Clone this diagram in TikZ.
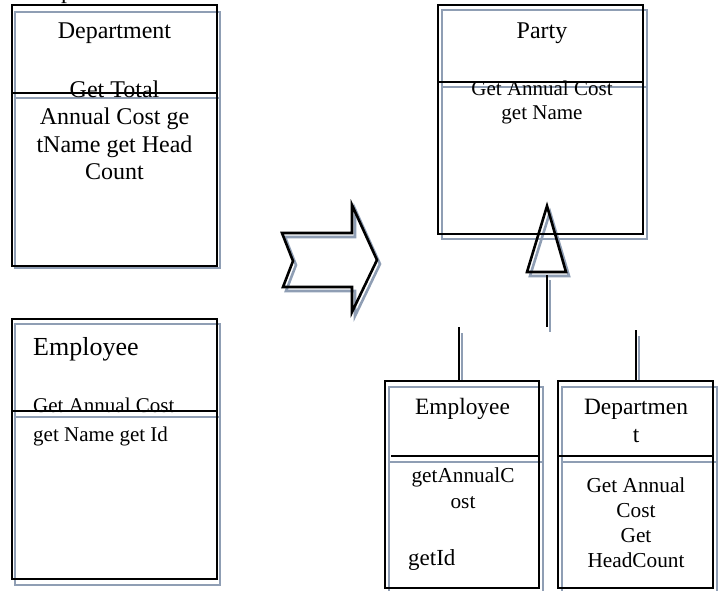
\documentclass[tikz,border=0pt]{standalone}
\usepackage{fontspec}
\setmainfont{Liberation Serif}
\usepackage{xcolor}
\usepackage{tikz}
\usetikzlibrary{calc}
\definecolor{shade}{RGB}{143,158,180}

\begin{document}
\begin{tikzpicture}[x=1pt, y=-1pt,
  classbox/.style={draw=black, line width=2.6pt, inner sep=0pt, outer sep=0pt, anchor=north west},
  ghostbox/.style={draw=shade, line width=2.6pt, inner sep=0pt, outer sep=0pt, anchor=north west},
  divider/.style={draw=black, line width=2.6pt},
  ghostline/.style={draw=shade, line width=2.6pt},
  txt/.style={inner sep=0pt, anchor=base, align=center},
  big/.style={font=\fontsize{24}{27.5}\selectfont}
]
\useasboundingbox (0,0) rectangle (719,590);

% shadows
\node[ghostbox, minimum width=205pt, minimum height=256pt] (deptOldS) at (15,12) {};
\draw[ghostline] ($(deptOldS.north west)+(0,86)$) -- ($(deptOldS.north east)+(0,86)$);
\node[ghostbox, minimum width=205pt, minimum height=261pt] (empOldS) at (15,324) {};
\draw[ghostline] ($(empOldS.north west)+(0,93)$) -- ($(empOldS.north east)+(0,93)$);
\node[ghostbox, minimum width=205pt, minimum height=229pt] (partyS) at (442,10) {};
\draw[ghostline] ($(partyS.north west)+(0,77)$) -- ($(partyS.north east)+(0,77)$);
\node[ghostbox, minimum width=154pt, minimum height=206pt] (subEmpS) at (389,387) {};
\draw[ghostline] ($(subEmpS.north west)+(0,75)$) -- ($(subEmpS.north east)+(0,75)$);
\node[ghostbox, minimum width=155pt, minimum height=206pt] (subDeptS) at (562,387) {};
\draw[ghostline] ($(subDeptS.north west)+(0,75)$) -- ($(subDeptS.north east)+(0,75)$);
\draw[ghostline] (285,237) -- (296,265) -- (286,291) -- (355,291) -- (355,316) -- (380,264) -- (355,209) -- (355,237) -- cycle;
\draw[ghostline] (550,212) -- (569,276) -- (530,276) -- cycle;
\draw[ghostline] (550,280) -- (550,332);
\draw[ghostline] (462,333) -- (462,381);
\draw[ghostline] (639,336) -- (639,381);

% classes
\node[classbox, minimum width=205pt, minimum height=261pt] (deptOld) at (12,5) {};
\draw[divider] ($(deptOld.north west)+(0,88)$) -- ($(deptOld.north east)+(0,88)$);
\node[classbox, minimum width=205pt, minimum height=260pt] (empOld) at (12,319) {};
\draw[divider] ($(empOld.north west)+(0,92)$) -- ($(empOld.north east)+(0,92)$);
\node[classbox, minimum width=205pt, minimum height=229pt] (party) at (438,5) {};
\draw[divider] ($(party.north west)+(0,77)$) -- ($(party.north east)+(0,77)$);
\node[classbox, minimum width=154pt, minimum height=207pt] (subEmp) at (385,381) {};
\draw[divider] ($(subEmp.north west)+(6,75)$) -- ($(subEmp.north east)+(0,75)$);
\node[classbox, minimum width=155pt, minimum height=207pt] (subDept) at (558,381) {};
\draw[divider] ($(subDept.north west)+(0,75)$) -- ($(subDept.north east)+(0,75)$);

% refactoring arrow and generalisation
\draw[divider] (282,233) -- (293,261) -- (283,287) -- (352,287) -- (352,312) -- (377,260) -- (352,205) -- (352,233) -- cycle;
\coordinate (tip) at (547,206);
\coordinate (stemTop) at (547,275);
\coordinate (stemEnd) at (547,327);
\draw[divider] (tip) -- (566,272) -- (527,272) -- cycle;
\draw[divider] (stemTop) -- (stemEnd);
\draw[divider] (subEmp.north -| 459,0) -- (459,327);
\draw[divider] (subDept.north -| 636,0) -- (636,330);

% texts (multi-line nodes sit on their last baseline)
\node[txt, big, anchor=base west] (cut) at (61,-2) {p};
\node[txt, big] (deptOldName) at (114.5,38) {Department};
\node[txt, big] (deptOldOps) at (114.5,179.5) {Get Total\\Annual Cost ge\\tName get Head\\Count};
\node[txt, anchor=base west, font=\fontsize{26}{30}\selectfont] (empOldName) at (33,355) {Employee};
\node[txt, anchor=base west, font=\fontsize{21}{29}\selectfont, align=left] (empOldOps) at (33,441) {Get Annual Cost\\get Name get Id};
\node[txt, big] (partyName) at (542,38) {Party};
\node[txt, font=\fontsize{21}{24}\selectfont] (partyOps) at (542,119) {Get Annual Cost\\get Name};
\node[txt, font=\fontsize{23.4}{28}\selectfont] (subEmpName) at (462.5,414) {Employee};
\node[txt, font=\fontsize{21.3}{26}\selectfont] (subEmpOps) at (463,508) {getAnnualC\\ost};
\node[txt, anchor=base west, font=\fontsize{23}{27}\selectfont] (subEmpId) at (408,565) {getId};
\node[txt, font=\fontsize{23.4}{28}\selectfont] (subDeptName) at (636,442) {Departmen\\t};
\node[txt, font=\fontsize{21.3}{24.7}\selectfont] (subDeptOps) at (636,567) {Get Annual\\Cost\\Get\\HeadCount};
\end{tikzpicture}
\end{document}
